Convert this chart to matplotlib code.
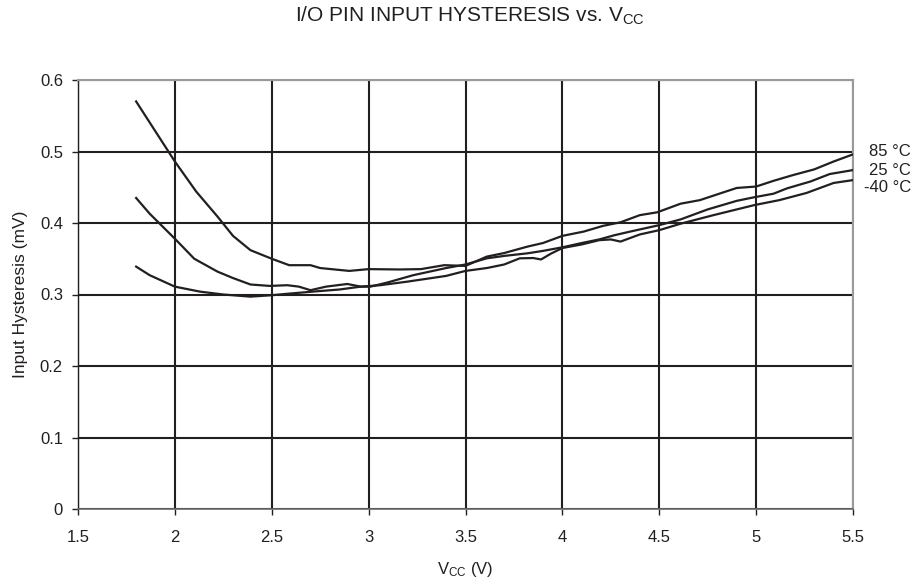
import matplotlib
matplotlib.use("Agg")
import matplotlib.pyplot as plt

plt.rcParams['font.family'] = ['Liberation Sans', 'DejaVu Sans']
plt.rcParams['mathtext.default'] = 'regular'

# Data (Vcc in V, hysteresis in mV)
vcc_85 = [1.80, 1.90, 2.00, 2.11, 2.22, 2.30, 2.39, 2.50, 2.59, 2.70, 2.75, 2.90, 3.00, 3.16,
          3.27, 3.39, 3.50, 3.61, 3.70, 3.82, 3.90, 4.00, 4.11, 4.21, 4.30, 4.40, 4.49, 4.61,
          4.71, 4.81, 4.90, 5.00, 5.09, 5.19, 5.30, 5.40, 5.50]
hyst_85 = [0.570, 0.528, 0.486, 0.444, 0.409, 0.382, 0.362, 0.350, 0.341, 0.341, 0.337, 0.333,
           0.3355, 0.335, 0.3355, 0.341, 0.340, 0.353, 0.358, 0.367, 0.372, 0.382, 0.388, 0.396,
           0.401, 0.411, 0.415, 0.427, 0.432, 0.441, 0.449, 0.451, 0.459, 0.467, 0.475, 0.486,
           0.496]

vcc_25 = [1.80, 1.87, 2.00, 2.10, 2.22, 2.30, 2.39, 2.49, 2.58, 2.64, 2.70, 2.78, 2.89, 2.96,
          3.01, 3.10, 3.23, 3.40, 3.50, 3.61, 3.70, 3.82, 3.90, 4.00, 4.10, 4.19, 4.27, 4.35,
          4.50, 4.61, 4.75, 4.90, 4.99, 5.09, 5.16, 5.28, 5.38, 5.50]
hyst_25 = [0.435, 0.413, 0.378, 0.350, 0.332, 0.323, 0.314, 0.312, 0.313, 0.311, 0.306, 0.311,
           0.3147, 0.311, 0.311, 0.317, 0.327, 0.337, 0.342, 0.3506, 0.354, 0.3576, 0.361,
           0.366, 0.372, 0.377, 0.383, 0.388, 0.397, 0.405, 0.419, 0.431, 0.436, 0.441, 0.4485,
           0.458, 0.4685, 0.474]

vcc_m40 = [1.80, 1.87, 2.00, 2.13, 2.25, 2.39, 2.50, 2.58, 2.71, 2.85, 2.96, 3.01, 3.06, 3.20,
           3.30, 3.40, 3.50, 3.61, 3.70, 3.78, 3.85, 3.89, 3.94, 4.00, 4.10, 4.19, 4.25, 4.30,
           4.40, 4.50, 4.61, 4.78, 4.90, 4.99, 5.12, 5.26, 5.40, 5.50]
hyst_m40 = [0.339, 0.327, 0.311, 0.304, 0.300, 0.297, 0.299, 0.301, 0.304, 0.307, 0.311, 0.312,
            0.313, 0.318, 0.322, 0.326, 0.333, 0.337, 0.342, 0.3506, 0.351, 0.349, 0.357, 0.365,
            0.370, 0.376, 0.377, 0.374, 0.384, 0.390, 0.399, 0.411, 0.419, 0.425, 0.432, 0.442,
            0.456, 0.460]

series_labels = ['85 °C', '25 °C', '-40 °C']
label_y = [0.4997, 0.473, 0.449]

x_ticks = [1.5, 2, 2.5, 3, 3.5, 4, 4.5, 5, 5.5]
x_ticklabels = ['1.5', '2', '2.5', '3', '3.5', '4', '4.5', '5', '5.5']
y_ticks = [0, 0.1, 0.2, 0.3, 0.4, 0.5, 0.6]
y_ticklabels = ['0', '0.1', '0.2', '0.3', '0.4', '0.5', '0.6']

TXT = '#231f20'
fig = plt.figure(figsize=(9.22, 5.84), dpi=100)
ax = fig.add_axes([78/922, 1 - 509/584, (853-78)/922, (509-80)/584])

for xs, ys in [(vcc_85, hyst_85), (vcc_25, hyst_25), (vcc_m40, hyst_m40)]:
    ax.plot(xs, ys, color=TXT, lw=1.6, solid_joinstyle='round', zorder=3)

ax.set_xlim(1.5, 5.5)
ax.set_ylim(0, 0.6)
ax.set_xticks(x_ticks)
ax.set_xticklabels(x_ticklabels)
ax.set_yticks(y_ticks)
ax.set_yticklabels(y_ticklabels)
ax.grid(True, color=TXT, lw=1.5)
ax.set_axisbelow(True)

for s in ['top', 'right']:
    ax.spines[s].set_color('#9a9a9a')
    ax.spines[s].set_linewidth(1.5)
ax.spines['bottom'].set_color('#6a6a6a')
ax.spines['bottom'].set_linewidth(1.2)
ax.spines['left'].set_color(TXT)
ax.spines['left'].set_linewidth(1.0)

ax.tick_params(axis='both', direction='out', length=4.3, width=1, color=TXT,
               labelsize=12, labelcolor=TXT)
ax.tick_params(axis='x', pad=11)
ax.tick_params(axis='y', pad=6.5)

for lab, yv in zip(series_labels, label_y):
    ax.text(5.80, yv, lab, ha='right', va='center', fontsize=12, color=TXT,
            clip_on=False)

ax.set_xlabel('V$_{CC}$ (V)', fontsize=12, color=TXT)
ax.xaxis.set_label_coords(0.5, (509 - 560) / 429)
ax.set_ylabel('Input Hysteresis (mV)', fontsize=12.5, color=TXT)
ax.yaxis.set_label_coords((28 - 78) / 775, 0.5)
fig.text(470/922, 1 - 22/584, 'I/O PIN INPUT HYSTERESIS vs. V$_{CC}$', ha='center',
         va='baseline', fontsize=15, color=TXT)

fig.savefig('out.png', dpi=100)
